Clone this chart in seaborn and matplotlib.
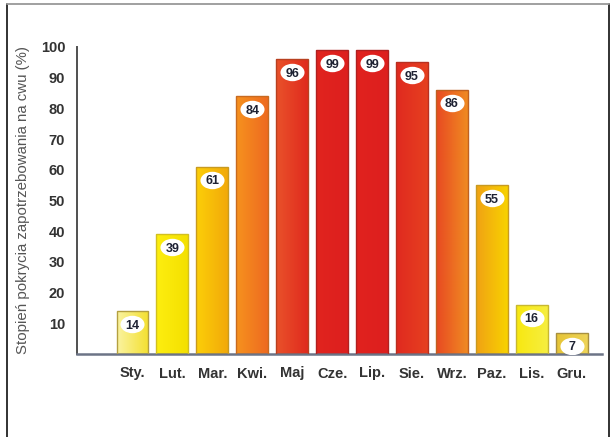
import numpy as np
import pandas as pd
import matplotlib
matplotlib.use("Agg")
import matplotlib.pyplot as plt
import seaborn as sns
from matplotlib.colors import LinearSegmentedColormap
from matplotlib.lines import Line2D
from matplotlib.path import Path
from matplotlib.transforms import Affine2D, offset_copy

months = ["Sty.", "Lut.", "Mar.", "Kwi.", "Maj", "Cze.", "Lip.", "Sie.", "Wrz.", "Paz.", "Lis.", "Gru."]
coverage = [14, 39, 61, 84, 96, 99, 99, 95, 86, 55, 16, 7]
y_ticks = [10, 20, 30, 40, 50, 60, 70, 80, 90, 100]
y_label = "Stopień pokrycia zapotrzebowania na cwu (%)"

# left/right gradient colours of each bar (style)
grad_left = ["#faf3a0", "#fdee10", "#fccf08", "#f6921e", "#e9522a", "#e1241f", "#e1221f", "#e02a20",
             "#e84a22", "#f0a214", "#f8e810", "#e6c436"]
grad_right = ["#f4e030", "#f4e000", "#f2a90a", "#ee6a20", "#e02a1e", "#dd1f1e", "#dd1f1e", "#e6401f",
              "#f08a22", "#f8d200", "#f6ee40", "#eed458"]
edge_cols = ["#b4a040", "#d2c020", "#c89a20", "#c86a20", "#b84020", "#b02020", "#b02020", "#b83020",
             "#c06020", "#c89a20", "#c8b830", "#a89040"]

df = pd.DataFrame({"month": months, "value": coverage})

sns.set_style("white")
plt.rcParams["font.family"] = ["Liberation Sans", "DejaVu Sans"]

fig = plt.figure(figsize=(6.11, 4.37), dpi=100)
ax = fig.add_axes([77 / 611, 1 - 354 / 437, (602 - 77) / 611, (354 - 47) / 437])

sns.barplot(data=df, x="month", y="value", order=months, color="#e02020", width=0.8,
            ax=ax, saturation=1, zorder=2)

for i, p in enumerate(ax.patches):
    x0, y0 = p.get_x(), p.get_y()
    w, h = p.get_width(), p.get_height()
    cmap = LinearSegmentedColormap.from_list("g%d" % i, [grad_left[i], grad_right[i]])
    grad = np.linspace(0, 1, 64).reshape(1, -1)
    im = ax.imshow(grad, cmap=cmap, extent=[x0, x0 + w, y0, y0 + h], aspect="auto",
                   zorder=2.5, interpolation="bicubic")
    im.set_clip_path(p)
    p.set_facecolor("none")
    p.set_edgecolor(edge_cols[i])
    p.set_linewidth(1.0)
    p.set_zorder(3)

# white oval value labels
oval = Affine2D().scale(1.38, 1.0).transform_path(Path.unit_circle())
lab_tr = offset_copy(ax.transData, fig=fig, x=0, y=-13, units="dots")
ax.scatter(range(len(coverage)), coverage, marker=oval, s=300, c="white",
           linewidths=0, transform=lab_tr, zorder=5)
for i, v in enumerate(coverage):
    ax.text(i, v, str(v), transform=lab_tr, ha="center", va="center_baseline",
            fontsize=9, fontweight="bold", color="#1e2233", zorder=6)

ax.set_xlim(-1.39, 11.76)
ax.set_ylim(0, 100)
ax.set_yticks(y_ticks)
ax.set_yticklabels([str(t) for t in y_ticks])
ax.set_xlabel("")
ax.set_ylabel(y_label, fontsize=10.8, color="#555555", labelpad=8)

ax.tick_params(axis="y", direction="in", length=14, width=1.4, color="#505050",
               pad=8.5, labelsize=10.5, labelcolor="#333333")
ax.tick_params(axis="x", length=0, pad=9.0, labelsize=10.5, labelcolor="#333333")
for lab in ax.get_xticklabels() + ax.get_yticklabels():
    lab.set_fontweight("bold")

for s in ["top", "right"]:
    ax.spines[s].set_visible(False)
ax.spines["left"].set_color("#505050")
ax.spines["left"].set_linewidth(1.4)
ax.spines["bottom"].set_color("#6c7486")
ax.spines["bottom"].set_linewidth(1.8)

# frame around picture
W, H = 611, 437
fig.add_artist(Line2D([7.5 / W, 7.5 / W], [0, 1 - 4 / H], color="#222222", lw=1.3))
fig.add_artist(Line2D([608.5 / W, 608.5 / W], [0, 1 - 4 / H], color="#222222", lw=1.3))
fig.add_artist(Line2D([7.5 / W, 608.5 / W], [1 - 4 / H, 1 - 4 / H], color="#999999", lw=1.3))

fig.savefig("out.png", dpi=100)
